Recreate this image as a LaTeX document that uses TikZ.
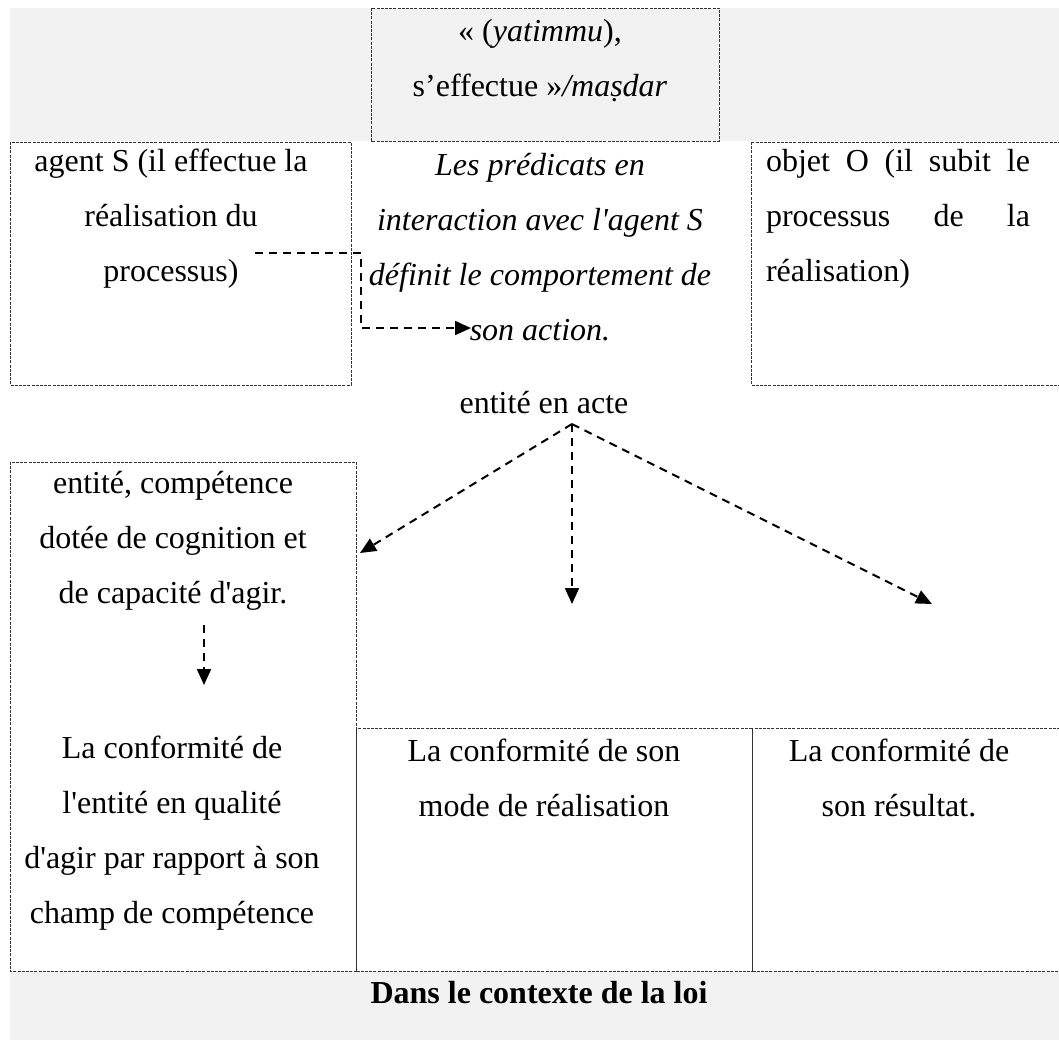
\documentclass[tikz,border=0pt]{standalone}
\usepackage{fontspec}
\setmainfont{Liberation Serif}
\usetikzlibrary{arrows.meta}
\definecolor{bandgray}{HTML}{F2F2F2}
\newcommand{\apo}{\textquotesingle}
\tikzset{
  cell/.style={draw=black!80, line width=0.5pt, dash pattern=on 1.5pt off 0.6pt},
  band/.style={fill=bandgray, draw=none},
  txt/.style={align=center, font=\fontsize{16}{27.5}\selectfont, inner sep=0pt},
  conn/.style={line width=1pt, dash pattern=on 4pt off 3pt, -{Triangle[length=8pt,width=7pt]}},
}
\begin{document}
\begin{tikzpicture}[x=0.5pt,y=-0.5pt]
\useasboundingbox (0,0) rectangle (1059,1041);
% grey bands
\path[band] (10,8) rectangle (1059,141);
\path[band] (10,971) rectangle (1059,1040);
% boxes
\path[cell, fill=bandgray] (371,8) rectangle (719,141);
\path[cell] (10,142) rectangle (351,385);
\path[cell] (751,142) rectangle (1062,385);
\path[cell] (10,462) rectangle (356,971);
\path[cell] (356,728) rectangle (752,971);
\path[cell] (752,728) rectangle (1062,971);
% texts
\node[txt] (top) at (540,61) {« (\textit{yatimmu}),\\ s’effectue »\textit{/maṣdar}};
\node[txt] (agent) at (171,219) {agent S (il effectue la\\ réalisation du\\ processus)};
\node[txt, font=\fontsize{16}{27.5}\selectfont\itshape] (pred) at (540,247) {Les prédicats en\\ interaction avec l\apo agent S\\ définit le comportement de\\ son action.};
\node[txt, align=left] (objet) at (898,219) {\makebox[132pt][s]{objet O (il subit le}\\ \makebox[132pt][s]{processus de la}\\ réalisation)};
\node[txt] (acte) at (544,403) {entité en acte};
\node[txt] (comp) at (173,541) {entité, compétence\\ dotée de cognition et\\ de capacité d\apo agir.};
\node[txt] (conf1) at (172,833) {La conformité de\\ l\apo entité en qualité\\ d\apo agir par rapport à son\\ champ de compétence};
\node[txt] (conf2) at (544,778) {La conformité de son\\ mode de réalisation};
\node[txt] (conf3) at (899,778) {La conformité de\\ son résultat.};
\node[txt, font=\fontsize{16}{27.5}\selectfont\bfseries] (loi) at (539,993) {Dans le contexte de la loi};
% connectors
\coordinate (e1) at (255,253);
\coordinate (em) at (361,290);
\coordinate (e2) at (471,328);
\draw[conn] (e1) -| (em) |- (e2);
\coordinate (apex) at (572,424);
\coordinate (t1) at (360,553);
\coordinate (t2) at (572,604);
\coordinate (t3) at (932,604);
\draw[conn] (apex) -- (t1);
\draw[conn] (apex) -- (t2);
\draw[conn] (apex) -- (t3);
\coordinate (s1) at (204,625);
\coordinate (s2) at (204,685);
\draw[conn] (s1) -- (s2);
\end{tikzpicture}
\end{document}
